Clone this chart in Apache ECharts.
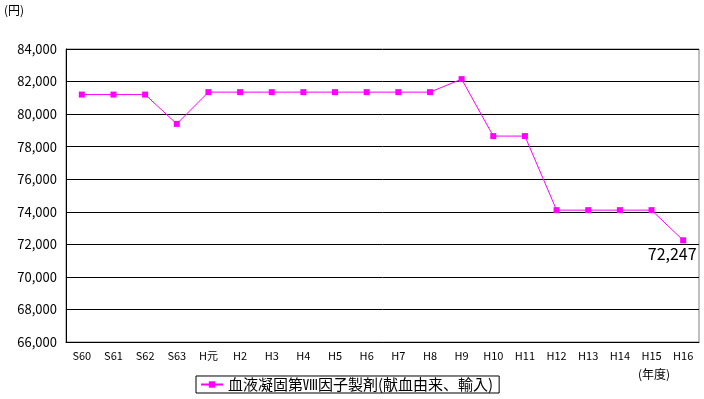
<!DOCTYPE html>
<html>
<head>
<meta charset="utf-8">
<script src="https://cdn.jsdelivr.net/npm/echarts@6/dist/echarts.min.js"></script>
<style>
  html, body { margin: 0; padding: 0; background: #fff; }
  #chart { width: 704px; height: 399px; }
</style>
</head>
<body>
<div id="chart"></div>
<script>
const years = ["S60", "S61", "S62", "S63", "H元", "H2", "H3", "H4", "H5", "H6", "H7", "H8", "H9", "H10", "H11", "H12", "H13", "H14", "H15", "H16"]
const prices = [81200, 81200, 81200, 79400, 81350, 81350, 81350, 81350, 81350, 81350, 81350, 81350, 82150, 78650, 78650, 74100, 74100, 74100, 74100, 72247]
const seriesName = "血液凝固第Ⅷ因子製剤(献血由来、輸入)"

const font = "'Noto Sans CJK JP', 'DejaVu Sans', sans-serif"
const chart = echarts.init(document.getElementById("chart"))

chart.setOption({
    animation: false,
    backgroundColor: "#fff",
    textStyle: { fontFamily: font },
    grid: { left: 66, right: 5, top: 49, bottom: 57, show: true, borderColor: "#808080", borderWidth: 1 },
    graphic: [
        { type: "text", left: 4, top: 4, style: { text: "(円)", font: "12px " + font, fill: "#000" } },
        { type: "text", left: 638, top: 368, style: { text: "(年度)", font: "12px " + font, fill: "#000" } }
    ],
    legend: {
        data: [seriesName],
        bottom: 6,
        left: 196,
        borderColor: "#000",
        borderWidth: 1,
        borderRadius: 0,
        padding: [1, 6, 1, 4],
        itemWidth: 22,
        itemHeight: 8,
        itemGap: 4,
        textStyle: { fontSize: 15, color: "#000", fontFamily: font }
    },
    xAxis: {
        type: "category",
        data: years,
        boundaryGap: true,
        axisLine: { lineStyle: { color: "#000", width: 1 } },
        axisTick: { lineStyle: { color: "#000" }, length: 4, alignWithLabel: false },
        axisLabel: { color: "#000", fontSize: 11, margin: 8, interval: 0 }
    },
    yAxis: {
        type: "value",
        min: 66000,
        max: 84000,
        interval: 2000,
        axisLine: { show: true, lineStyle: { color: "#000" } },
        axisTick: { show: false },
        splitLine: { lineStyle: { color: "#000", width: 1 } },
        axisLabel: {
            color: "#000",
            fontSize: 13,
            margin: 9,
            formatter: v => v.toLocaleString("en-US")
        }
    },
    series: [{
        name: seriesName,
        type: "line",
        data: prices.map((v, i) => i === prices.length - 1
            ? { value: v, label: { show: true, position: "bottom", distance: 3, offset: [-11, 0], fontSize: 16, color: "#000", formatter: p => p.value.toLocaleString("en-US") } }
            : v),
        symbol: "rect",
        symbolSize: 6,
        itemStyle: { color: "#ff00ff" },
        lineStyle: { color: "#ff00ff", width: 1 }
    }]
})
</script>
</body>
</html>
